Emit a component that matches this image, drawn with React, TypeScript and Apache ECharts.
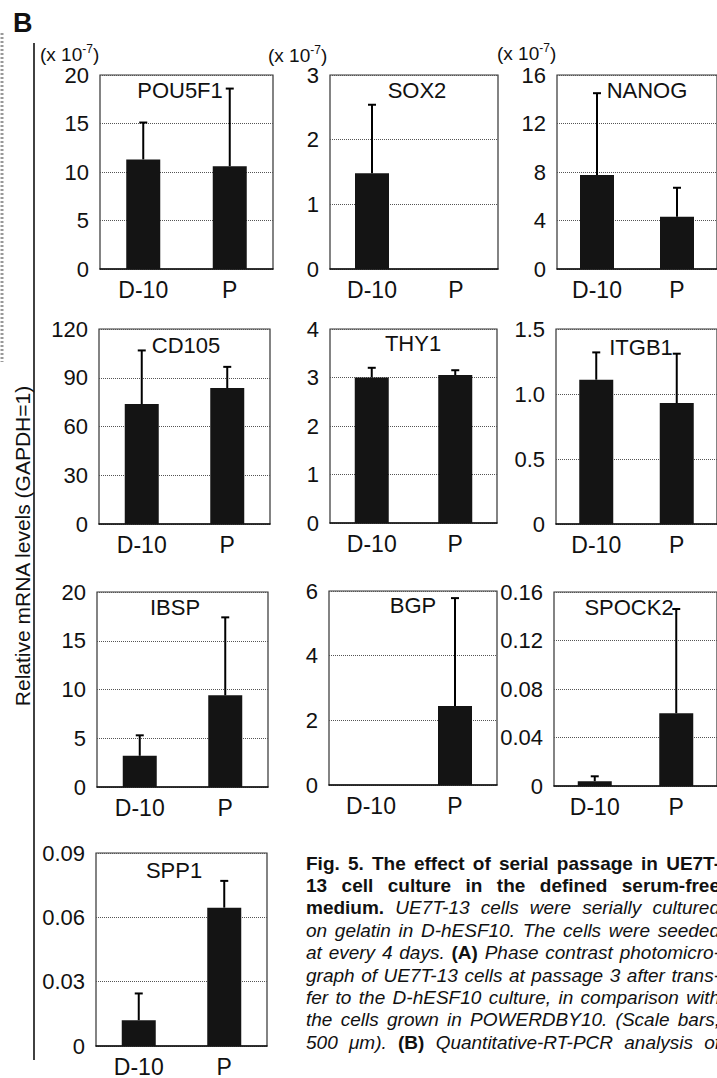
import React, { useEffect, useRef } from "react";
import * as echarts from "echarts";

// ---------- data ----------
const categories = ["D-10", "P"];
const genes = ["POU5F1", "SOX2", "NANOG", "CD105", "THY1", "ITGB1", "IBSP", "BGP", "SPOCK2", "SPP1"];

const pou5f1Mean = [11.3, 10.6];
const pou5f1Sd = [3.8, 8.0];
const sox2Mean = [1.48, 0];
const sox2Sd = [1.06, 0];
const nanogMean = [7.75, 4.3];
const nanogSd = [6.75, 2.4];
const cd105Mean = [73.8, 83.7];
const cd105Sd = [33, 13];
const thy1Mean = [3.0, 3.05];
const thy1Sd = [0.2, 0.1];
const itgb1Mean = [1.11, 0.93];
const itgb1Sd = [0.21, 0.38];
const ibspMean = [3.2, 9.4];
const ibspSd = [2.1, 8.0];
const bgpMean = [0, 2.44];
const bgpSd = [0, 3.34];
const spock2Mean = [0.004, 0.06];
const spock2Sd = [0.004, 0.086];
const spp1Mean = [0.012, 0.0645];
const spp1Sd = [0.0125, 0.0125];

const means = [pou5f1Mean, sox2Mean, nanogMean, cd105Mean, thy1Mean, itgb1Mean, ibspMean, bgpMean, spock2Mean, spp1Mean];
const sds = [pou5f1Sd, sox2Sd, nanogSd, cd105Sd, thy1Sd, itgb1Sd, ibspSd, bgpSd, spock2Sd, spp1Sd];

const yMax = [20, 3, 16, 120, 4, 1.5, 20, 6, 0.16, 0.09];
const yInterval = [5, 1, 4, 30, 1, 0.5, 5, 2, 0.04, 0.03];
const yDecimals = [0, 0, 0, 0, 0, 1, 0, 0, 2, 2];
const hasScaleNote = [true, true, true, false, false, false, false, false, false, false];

const yAxisTitle = "Relative mRNA levels (GAPDH=1)";
const panelLabel = "B";

const captionLines: [string, string][][] = [
  [["b", "Fig. 5. The effect of serial passage in UE7T-"]],
  [["b", "13 cell culture in the defined serum-free"]],
  [["b", "medium."], ["i", "UE7T-13 cells were serially cultured"]],
  [["i", "on gelatin in D-hESF10. The cells were seeded"]],
  [["i", "at every 4 days."], ["b", "(A)"], ["i", "Phase contrast photomicro-"]],
  [["i", "graph of UE7T-13 cells at passage 3 after trans-"]],
  [["i", "fer to the D-hESF10 culture, in comparison with"]],
  [["i", "the cells grown in POWERDBY10. (Scale bars,"]],
  [["i", "500 μm)."], ["b", "(B)"], ["i", "Quantitative-RT-PCR analysis of"]],
];

// ---------- layout ----------
const gridBoxes = [
  { left: 100, top: 75, width: 173, height: 194 },
  { left: 330, top: 75, width: 168, height: 194 },
  { left: 557, top: 75, width: 172, height: 194 },
  { left: 99, top: 329, width: 171, height: 195 },
  { left: 330, top: 329, width: 167, height: 194 },
  { left: 556, top: 329, width: 171, height: 195 },
  { left: 97, top: 592, width: 171, height: 195 },
  { left: 329, top: 591, width: 168, height: 194 },
  { left: 554, top: 592, width: 172, height: 194 },
  { left: 96, top: 853, width: 171, height: 194 },
];
const titlePos = [
  [180, 90], [417, 90], [647, 90],
  [186, 345], [413, 343], [641, 347],
  [175, 607], [413, 605], [629, 607],
  [174, 870],
];
const scaleNotePos = [[40, 54], [268, 55], [497, 53]];

const FONT = "'Liberation Sans', Arial, Helvetica, sans-serif";
const INK = "#111";

function measure(ctx: CanvasRenderingContext2D, text: string, bold: boolean, italic: boolean, size: number) {
  ctx.font = `${italic ? "italic " : ""}${bold ? "bold " : ""}${size}px 'Liberation Sans'`;
  return ctx.measureText(text).width;
}

function buildCaption(): any[] {
  const canvas = document.createElement("canvas");
  const ctx = canvas.getContext("2d") as CanvasRenderingContext2D;
  const size = 19;
  const x0 = 306;
  const W = 414;
  const y0 = 863;
  const lh = 22.4;
  const els: any[] = [];
  captionLines.forEach((segs, li) => {
    const words: { t: string; b: boolean; w: number }[] = [];
    segs.forEach(([st, txt]) => {
      txt.split(" ").filter((s) => s.length).forEach((t) => {
        const b = st === "b";
        words.push({ t, b, w: measure(ctx, t, b, !b, size) });
      });
    });
    const total = words.reduce((a, w) => a + w.w, 0);
    const gap = words.length > 1 ? (W - total) / (words.length - 1) : 0;
    let x = x0;
    words.forEach((w) => {
      els.push({
        type: "text",
        x,
        y: y0 + li * lh,
        silent: true,
        style: {
          text: w.t,
          fontSize: size,
          fontFamily: FONT,
          fontWeight: w.b ? "bold" : "normal",
          fontStyle: w.b ? "normal" : "italic",
          fill: INK,
          textAlign: "left",
          align: "left",
          textVerticalAlign: "middle",
          verticalAlign: "middle",
        },
      });
      x += w.w + gap;
    });
  });
  return els;
}

function buildOption() {
  const grid: any[] = [];
  const xAxis: any[] = [];
  const yAxis: any[] = [];
  const series: any[] = [];
  const graphic: any[] = [];

  genes.forEach((g, i) => {
    const box = gridBoxes[i];
    grid.push({ ...box, show: true, borderColor: "#333", borderWidth: 1.2, backgroundColor: "transparent" });
    xAxis.push({
      gridIndex: i,
      type: "category",
      data: categories,
      axisLine: { show: true, lineStyle: { color: INK, width: 1.5 } },
      axisTick: { show: false },
      axisLabel: { fontSize: 23, color: INK, margin: 9, fontFamily: FONT },
      splitLine: { show: false },
    });
    const dec = yDecimals[i];
    yAxis.push({
      gridIndex: i,
      type: "value",
      min: 0,
      max: yMax[i],
      interval: yInterval[i],
      axisLine: { show: false },
      axisTick: { show: false },
      axisLabel: {
        fontSize: 22,
        color: INK,
        margin: 11,
        fontFamily: FONT,
        formatter: (v: number) => (v === 0 ? "0" : v.toFixed(dec)),
      },
      splitLine: { show: true, lineStyle: { type: "dotted", color: "#555", width: 1 } },
    });
    series.push({
      type: "bar",
      xAxisIndex: i,
      yAxisIndex: i,
      data: means[i],
      barWidth: 34,
      itemStyle: { color: "#141414" },
      silent: true,
    });
    series.push({
      type: "custom",
      xAxisIndex: i,
      yAxisIndex: i,
      z: 5,
      silent: true,
      data: means[i].map((m, j) => [j, m, sds[i][j]]),
      renderItem: (params: any, api: any) => {
        const idx = api.value(0);
        const m = api.value(1);
        const sd = api.value(2);
        if (!sd) return { type: "group", children: [] };
        const p0 = api.coord([idx, m]);
        const p1 = api.coord([idx, m + sd]);
        const st = { stroke: "#000", lineWidth: 2 };
        return {
          type: "group",
          children: [
            { type: "line", shape: { x1: p0[0], y1: p0[1], x2: p1[0], y2: p1[1] }, style: st },
            { type: "line", shape: { x1: p1[0] - 4, y1: p1[1], x2: p1[0] + 4, y2: p1[1] }, style: st },
          ],
        };
      },
    });
    graphic.push({
      type: "text",
      x: titlePos[i][0],
      y: titlePos[i][1],
      silent: true,
      z: 10,
      style: {
        text: g,
        fontSize: 22,
        fontFamily: FONT,
        fill: INK,
        textAlign: "center",
        align: "center",
        textVerticalAlign: "middle",
        verticalAlign: "middle",
      },
    });
  });

  hasScaleNote.forEach((h, i) => {
    if (!h) return;
    const p = scaleNotePos[i];
    graphic.push({
      type: "text",
      x: p[0],
      y: p[1],
      silent: true,
      style: {
        text: "(x 10{s|-7})",
        fontSize: 19,
        fontFamily: FONT,
        fill: INK,
        lineHeight: 22,
        textAlign: "left",
        align: "left",
        textVerticalAlign: "middle",
        verticalAlign: "middle",
        rich: {
          s: { fontSize: 12, fontFamily: FONT, fill: INK, verticalAlign: "top", textVerticalAlign: "top", lineHeight: 12 },
        },
      },
    });
  });

  graphic.push({
    type: "text",
    x: 13,
    y: 23,
    silent: true,
    style: {
      text: panelLabel,
      fontSize: 27,
      fontWeight: "bold",
      fontFamily: FONT,
      fill: INK,
      textAlign: "left",
      align: "left",
      textVerticalAlign: "middle",
      verticalAlign: "middle",
    },
  });
  graphic.push({
    type: "text",
    x: 22,
    y: 546,
    rotation: Math.PI / 2,
    silent: true,
    style: {
      text: yAxisTitle,
      fontSize: 21,
      fontFamily: FONT,
      fill: INK,
      textAlign: "center",
      align: "center",
      textVerticalAlign: "middle",
      verticalAlign: "middle",
    },
  });
  graphic.push({
    type: "line",
    silent: true,
    shape: { x1: 34, y1: 43, x2: 34, y2: 1060 },
    style: { stroke: INK, lineWidth: 1.6 },
  });
  graphic.push({
    type: "line",
    silent: true,
    shape: { x1: 2, y1: 33, x2: 2, y2: 362 },
    style: { stroke: "#999", lineWidth: 3, lineDash: [2, 2] },
  });
  graphic.push(...buildCaption());

  return {
    animation: false,
    backgroundColor: "#fff",
    textStyle: { fontFamily: FONT },
    grid,
    xAxis,
    yAxis,
    series,
    graphic,
  };
}

export default function App() {
  const ref = useRef<HTMLDivElement>(null);
  useEffect(() => {
    if (!ref.current) return;
    const chart = echarts.init(ref.current, null, { renderer: "svg" });
    chart.setOption(buildOption() as any);
    return () => chart.dispose();
  }, []);
  return (
    <div
      ref={ref}
      style={{ position: "absolute", left: 0, top: 0, width: 717, height: 1078, background: "#fff", overflow: "hidden" }}
    />
  );
}
